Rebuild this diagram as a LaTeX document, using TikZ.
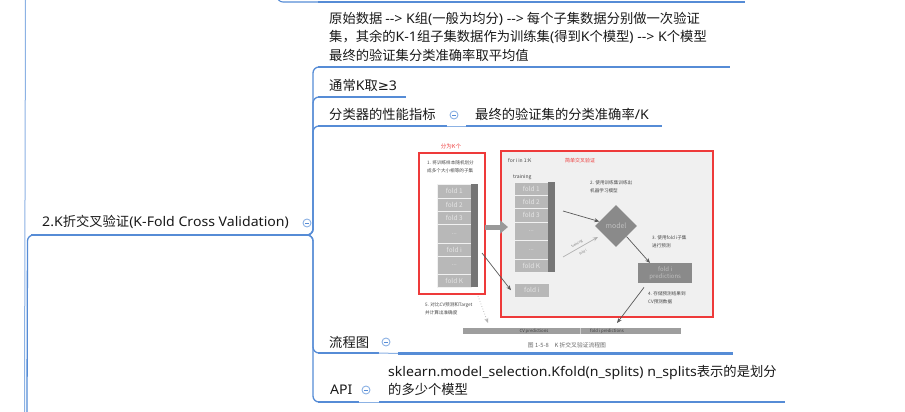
\documentclass[tikz,border=0pt]{standalone}
\usepackage{fontspec}
\setmainfont{Noto Sans CJK SC}
\newfontfamily\latn{Noto Sans}[FakeStretch=1.06]
\newfontfamily\symf{DejaVu Sans}
\usetikzlibrary{arrows.meta,shapes.geometric}
\definecolor{mmblue}{RGB}{86,140,214}
\definecolor{mmthin}{RGB}{140,178,228}
\definecolor{redbox}{RGB}{238,58,58}
\definecolor{cellgray}{RGB}{184,184,184}
\definecolor{stripgray}{RGB}{118,118,118}
\definecolor{boxgray}{RGB}{138,138,138}
\definecolor{notegray}{RGB}{70,70,70}
\definecolor{panelgray}{RGB}{240,240,240}
\newcommand{\fdots}{.{}.{}.}
\tikzset{
  mmtext/.style={anchor=west, inner sep=0pt, align=left, text=black!90, font=\fontsize{13.3}{18.5}\selectfont},
  uline/.style={draw=mmblue, line width=2.2pt},
  conn/.style={draw=mmblue, line width=1.3pt, rounded corners=6pt},
  thinconn/.style={draw=mmthin, line width=1pt},
  collapse/.style={circle, draw=mmthin, line width=0.9pt, fill=white, minimum size=8pt, inner sep=0pt,
    path picture={\draw[mmblue, line width=0.7pt] ([xshift=-2pt]path picture bounding box.center) -- ([xshift=2pt]path picture bounding box.center);}},
  redframe/.style={draw=redbox, line width=1.8pt, inner sep=0pt, anchor=north west},
  cell/.style={fill=cellgray, draw=white!80!cellgray, line width=0.5pt, inner sep=0pt, anchor=north west,
    text=white!90!black, font=\fontsize{6.5}{7}\selectfont},
  strip/.style={fill=stripgray, inner sep=0pt, anchor=north west},
  note/.style={anchor=west, inner sep=0pt, align=left, text=notegray, font=\fontsize{4.6}{8}\selectfont},
  farrow/.style={draw=black!65, line width=0.7pt, -{Stealth[length=5pt,width=4pt]}},
}
\begin{document}
\begin{tikzpicture}[x=1pt,y=-1pt]
\useasboundingbox[fill=white] (0,0) rectangle (905,412);

% ---------- mind map lines ----------
\draw[draw=mmthin, line width=1pt] (25.5,0) -- (25,200) -- (24.5,412);
% node above (cut off)
\draw[conn, line width=1.1pt] (277,-8) -- (277,2) -- (322,2);
\draw[uline] (318,2) -- (745,2);

% parent
\node[mmtext] (P) at (42,222) {{\latn 2.K}折交叉验证{\latn (K-Fold Cross Validation)}};
\coordinate (Pl) at (31,235);
\coordinate (Pr) at (300,235);
\coordinate (Gb) at (27,412);
\draw[conn] (Gb) -- (27.5,235) -- (Pl);
\draw[uline] (Pl) -- (Pr);
\node[collapse] (c0) at (307,223) {};

% children texts
\node[mmtext] (n1) at (329,36.5) {原始数据 {\latn -{}-> K}组{\latn (}一般为均分{\latn ) -{}->} 每个子集数据分别做一次验证\\集，其余的{\latn K-1}组子集数据作为训练集{\latn (}得到{\latn K}个模型{\latn ) -{}-> K}个模型\\最终的验证集分类准确率取平均值};
\node[mmtext] (n2) at (329,85) {通常{\latn K}取{\symf ≥}{\latn 3}};
\node[mmtext] (n3) at (329,114) {分类器的性能指标};
\node[collapse] (c3) at (454,115) {};
\node[mmtext] (n3c) at (475,114) {最终的验证集的分类准确率{\latn /K}};
\node[mmtext] (n4) at (329,342) {流程图};
\node[collapse] (c4) at (386,342) {};
\node[mmtext] (n5) at (330,390) {{\latn API}};
\node[collapse] (c5) at (366,390) {};
\node[mmtext, font=\fontsize{13.3}{18}\selectfont] (n5c) at (388,380) {{\latn sklearn.model\_selection.Kfold(n\_splits) n\_splits}表示的是划分\\的多少个模型};

% underline coordinates
\coordinate (u1a) at (318,67);  \coordinate (u1b) at (730,67);
\coordinate (u2a) at (318,97);  \coordinate (u2b) at (406,97);
\coordinate (u3a) at (318,126); \coordinate (u3b) at (447,126);
\coordinate (u3ca) at (466,126); \coordinate (u3cb) at (662,126);
\coordinate (u4a) at (318,353); \coordinate (u4b) at (379,353);
\coordinate (u4ca) at (398,353.5); \coordinate (u4cb) at (733,353.5);
\coordinate (u5a) at (318,402); \coordinate (u5b) at (359,402);
\coordinate (u5ca) at (379,402); \coordinate (u5cb) at (785,402);

% bracket connectors
\foreach \u in {u1a,u2a,u3a,u4a,u5a}{
  \draw[conn] (Pr) -- (313,235) -- (313,0 |- \u) -- ([xshift=4pt]\u);
}
\draw[uline] (u1a) -- (u1b);
\draw[uline] (u2a) -- (u2b);
\draw[uline] (u3a) -- (u3b);
\draw[thinconn] (u3b) -- (u3ca);
\draw[uline] (u3ca) -- (u3cb);
\draw[uline] (u4a) -- (u4b);
\draw[thinconn] (u4b) -- (u4ca);
\draw[uline] (u4ca) -- (u4cb);
\draw[uline] (u5a) -- (u5b);
\draw[thinconn] (u5b) -- (u5ca);
\draw[uline] (u5ca) -- (u5cb);

% ---------- embedded flow chart ----------
% left red box
\node[redframe, fill=white, minimum width=66, minimum height=141] (lbox) at (418,152) {};
\node[text=redbox, inner sep=0pt, font=\fontsize{5.5}{6}\selectfont] (lk) at (451,146.5) {分为K个};
\node[note] (t1) at (427,167) {1. 将训练样本随机划分\\成多个大小相等的子集};
\foreach \t/\b/\lab [count=\k] in {184/198/fold 1, 198/211/fold 2, 211/224/fold 3, 224/243/\fdots, 243/256/fold \textit{i}, 256/274/\fdots, 274/287/fold \textit{K}}{
  \node[cell, minimum width=34, minimum height=\b-\t] (L\k) at (437,\t) {\lab};
}
\node[strip, minimum width=7, minimum height=103] (Lstrip) at (471,184) {};

% big arrow
\coordinate (bigs) at (485,227);
\coordinate (bige) at (508,227);

% right red box
\node[redframe, fill=panelgray, minimum width=212, minimum height=166] (rbox) at (500,150) {};
\draw[line width=5pt, draw=black!40, -{Triangle[length=8pt,width=13pt]}] (bigs) -- (bige);
\node[anchor=west, inner sep=0pt, text=notegray, font=\fontsize{5}{6}\selectfont] (fori) at (508,161) {for \textit{i} in 1:\textit{K}};
\node[anchor=west, inner sep=0pt, text=redbox, font=\fontsize{5}{6}\selectfont] (simple) at (565,161) {简单交叉验证};
\node[anchor=west, inner sep=0pt, text=notegray, font=\fontsize{5}{6}\selectfont] (train) at (513,177.5) {training};
\foreach \t/\b/\lab [count=\k] in {182/195/fold 1, 195/208/fold 2, 208/222/fold 3, 222/240/\fdots, 240/259/\fdots, 259/272/fold \textit{K}}{
  \node[cell, minimum width=34, minimum height=\b-\t] (R\k) at (514,\t) {\lab};
}
\node[strip, minimum width=7, minimum height=90] (Rstrip) at (548,182) {};
\node[cell, minimum width=35, minimum height=14] (foldi) at (514,283) {fold \textit{i}};

\node[note] (t2) at (590,187) {2. 使用训练集训练出\\机器学习模型};
\node[diamond, fill=boxgray, minimum width=42, minimum height=42, inner sep=0pt, text=black!25, font=\fontsize{7}{8}\selectfont] (model) at (616,226) {model};
\node[note] (t3) at (652,242) {3. 使用fold \textit{i}子集\\进行预测};
\node[fill=boxgray, inner sep=0pt, anchor=north west, minimum width=54, minimum height=20, align=center, text=black!25, font=\fontsize{6}{6.5}\selectfont] (pred) at (638,263) {fold \textit{i}\\predictions};
\node[note] (t4) at (648,298) {4. 存储预测结果到\\CV预测数据};
\node[note] (t5) at (425,309) {5. 对比CV预测和Target\\并计算出准确度};

% bottom bar
\node[fill=black!38, inner sep=0pt, anchor=north west, minimum width=218, minimum height=6] (bar) at (463,328) {};
\draw[white!80!black, line width=0.5pt] (580,328) -- (580,334);
\node[inner sep=0pt, text=black!75, font=\fontsize{4.3}{5}\selectfont] (cvp) at (534,331) {CV predictions};
\node[inner sep=0pt, text=black!75, font=\fontsize{4.3}{5}\selectfont] (fip) at (607,331) {fold \textit{i} predictions};
\node[inner sep=0pt, text=black!60, font=\fontsize{5.8}{6}\selectfont] (cap) at (567,345) {图 1-5-8\quad K 折交叉验证流程图};

% flow chart arrows
\coordinate (a1s) at (563,211);
\draw[farrow] (a1s) -- (model.165);
\coordinate (a2s) at (563,257);
\coordinate (a2e) at (598,237);
\draw[farrow, draw=black!30] (a2s) -- (a2e);
\node[rotate=30, inner sep=0pt, text=black!55, font=\fontsize{3.3}{4}\selectfont] (lab1) at (577,244) {training};
\node[rotate=30, inner sep=0pt, text=black!55, font=\fontsize{3.3}{4}\selectfont] (lab2) at (583,252) {fold \textit{i}};
\draw[farrow] (model.-45) -- ([xshift=12pt]pred.north west);
\coordinate (a4e) at (617,323);
\draw[farrow] ([xshift=6pt, yshift=-4pt]pred.south west) -- (a4e);
\coordinate (a5s) at (482,253);
\draw[farrow] (a5s) -- ([xshift=-3pt]foldi.west);
\coordinate (a6s) at (478,296);
\coordinate (a6e) at (488,323);
\draw[farrow, draw=black!30, dotted] (a6s) -- (a6e);
\end{tikzpicture}
\end{document}
